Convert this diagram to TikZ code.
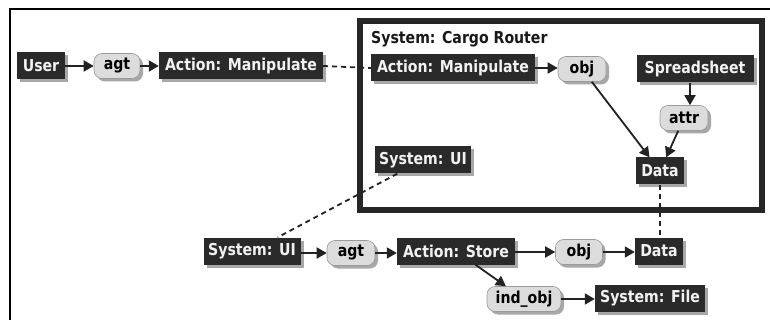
\documentclass[tikz,border=0pt]{standalone}
\usepackage{fontspec}
\setmainfont{DejaVu Sans}[FakeStretch=0.86]
\usetikzlibrary{arrows.meta,shadows}
\definecolor{darkbox}{HTML}{2A2A2A}
\definecolor{boxtext}{HTML}{F2F2F2}
\definecolor{pill}{HTML}{DCDCDC}
\definecolor{pillline}{HTML}{9A9A9A}
\definecolor{shade}{HTML}{A8A8A8}
\definecolor{linec}{HTML}{222222}
\tikzset{
  lbl/.style={font=\fontsize{16.4}{18}\selectfont\bfseries},
  concept/.style={lbl, rectangle, fill=darkbox, text=boxtext, inner sep=0pt,
    minimum height=27pt,
    drop shadow={shadow xshift=3pt, shadow yshift=-3pt, fill=shade, opacity=1}},
  relation/.style={lbl, rectangle, rounded corners=8pt, fill=pill, draw=pillline,
    line width=0.6pt, text=black, inner sep=0pt, minimum height=25pt,
    drop shadow={shadow xshift=3pt, shadow yshift=-3pt, fill=shade, opacity=1}},
  arr/.style={draw=linec, line width=1.8pt, -{Triangle[length=10pt,width=11pt]}},
  link/.style={draw=linec, line width=1.8pt, dash pattern=on 5pt off 4pt},
}
\begin{document}
\begin{tikzpicture}[x=1pt,y=-1pt]
\useasboundingbox (0,0) rectangle (770,320);
\fill[white] (0,0) rectangle (770,320);
% outer frame (cut off at right and bottom)
\draw[line width=2.6pt, black] (10,320) -- (10,9) -- (770,9);
% Cargo Router context box
\draw[line width=6pt, draw=black!85, fill=white] (359.5,21.5) rectangle (762,210);
\node[lbl, anchor=north west, inner sep=0pt, text=black!90] (title) at (371,31) {System: Cargo Router};

% top row
\node[concept, minimum width=48pt] (user) at (41,66) {User};
\node[relation, minimum width=46pt] (agt1) at (117,66) {agt};
\node[concept, minimum width=164pt] (am1) at (241,66) {Action: Manipulate};

% inside context
\node[concept, minimum width=164pt] (am2) at (453,68) {Action: Manipulate};
\node[relation, minimum width=48pt] (obj1) at (582,69) {obj};
\node[concept, minimum width=117pt] (spread) at (695,69) {Spreadsheet};
\node[relation, minimum width=48pt] (attr) at (684,118) {attr};
\node[concept, minimum width=48pt] (data1) at (660,171) {Data};
\node[concept, minimum width=96pt] (ui1) at (423,160) {System: UI};

% bottom rows
\node[concept, minimum width=97pt] (ui2) at (252,251) {System: UI};
\node[relation, minimum width=48pt] (agt2) at (351,253) {agt};
\node[concept, minimum width=118pt] (store) at (456,251) {Action: Store};
\node[relation, minimum width=47pt] (obj2) at (579,252) {obj};
\node[concept, minimum width=48pt] (data2) at (659,251) {Data};
\node[relation, minimum width=74pt] (indobj) at (524,299) {ind\_obj};
\node[concept, minimum width=110pt] (file) at (650,298) {System: File};

% connectors
\draw[arr] (user.east) -- (agt1.west);
\draw[arr] (agt1.east) -- (am1.west);
\draw[link] (am1.east) -- (am2.west);
\draw[arr] (am2.east) -- (obj1.west |- am2.east);
\draw[arr] (obj1) -- (data1);
\coordinate (sa) at (690,69);
\draw[arr] (spread.south -| sa) -- (attr.north -| sa);
\draw[arr] (attr) -- (data1);
\draw[link] (data1.south) -- (data2.north -| data1.south);
\draw[link] (ui1) -- (ui2);
\draw[arr] (ui2.east |- agt2.west) -- (agt2.west);
\draw[arr] (agt2.east) -- (store.west |- agt2.east);
\draw[arr] (store.east |- obj2.west) -- (obj2.west);
\draw[arr] (obj2.east) -- (data2.west |- obj2.east);
\draw[arr] (store) -- (indobj);
\draw[arr] (indobj.east) -- (file.west |- indobj.east);
\end{tikzpicture}
\end{document}
